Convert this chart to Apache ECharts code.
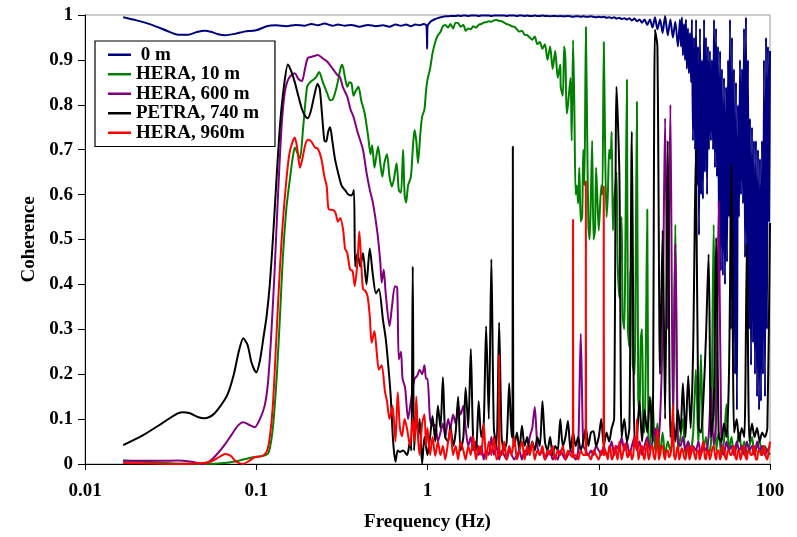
<!DOCTYPE html>
<html><head><meta charset="utf-8">
<script src="https://cdn.jsdelivr.net/npm/echarts@6/dist/echarts.min.js"></script>
<style>html,body{margin:0;padding:0;background:#fff}#c{width:797px;height:537px}</style>
</head><body><div id="c"></div>
<script>
const seriesNames = [' 0 m', 'HERA, 10 m', 'HERA, 600 m', 'PETRA, 740 m', 'HERA, 960m'];
const seriesColors = ['#000080', '#008000', '#800080', '#000000', '#ff0000'];
const xTickLabels = ['0.01', '0.1', '1', '10', '100'];
const yTickLabels = ['0', '0.1', '0.2', '0.3', '0.4', '0.5', '0.6', '0.7', '0.8', '0.9', '1'];

// shared frequency grids (Hz)
const freqMid = [1,1.035,1.07,1.11,1.15,1.19,1.23,1.27,1.32,1.36,
 1.41,1.46,1.51,1.56,1.62,1.67,1.73,1.79,1.85,1.92,
 1.99,2.06,2.13,2.2,2.28,2.36,2.44,2.53,2.62,2.71,
 2.8,2.9,3,3.1,3.21,3.33,3.44,3.56,3.69,3.82,
 3.95,4.09,4.23,4.38,4.53,4.69,4.85,5.02,5.2,5.38,
 5.57,5.76,5.96,6.17,6.39,6.61,6.84,7.08,7.33,7.58,
 7.85,8.12,8.41,8.7,9,9.32,9.65,10];
const freqHigh = [10,10.35,10.7,11.1,11.5,11.9,12.3,12.7,13.2,13.6,
 14.1,14.6,15.1,15.6,16.2,16.7,17.3,17.9,18.5,19.2,
 19.9,20.6,21.3,22,22.8,23.6,24.4,25.3,26.2,27.1,
 28,29,30,31,32.1,33.3,34.4,35.6,36.9,38.2,
 39.5,40.9,42.3,43.8,45.3,46.9,48.5,50.2,52,53.8,
 55.7,57.6,59.6,61.7,63.9,66.1,68.4,70.8,73.3,75.8,
 78.5,81.2,84.1,87,90,93.2,96.5,100];

// ---- 0 m (blue)
const blueLow = [[0.0167,0.995],[0.02,0.988],[0.025,0.977],[0.03,0.965],[0.035,0.956],[0.04,0.956],[0.045,0.962],[0.05,0.965],[0.055,0.962],[0.06,0.957],[0.066,0.955],[0.075,0.958],[0.085,0.963],[0.1,0.966],[0.115,0.975],[0.13,0.977],[0.15,0.975],[0.17,0.978],[0.19,0.976],[0.21,0.98],[0.23,0.977],[0.25,0.981],[0.28,0.976],[0.3,0.979],[0.33,0.976],[0.36,0.978],[0.4,0.974],[0.45,0.978],[0.5,0.975],[0.55,0.977],[0.6,0.974],[0.65,0.979],[0.7,0.976],[0.75,0.979],[0.8,0.975],[0.85,0.979],[0.9,0.977],[0.95,0.98],[0.985,0.977],[0.995,0.925]];
const blueMid = [0.975,0.984,0.988,0.991,0.993,0.995,0.996,0.997,0.997,0.998,
 0.998,0.998,0.999,0.998,0.999,0.999,0.998,0.999,0.999,0.999,
 0.998,0.999,0.999,0.999,0.999,0.998,0.999,0.999,0.999,0.999,
 0.999,0.998,0.999,0.999,0.999,0.998,0.999,0.999,0.998,0.999,
 0.998,0.998,0.999,0.998,0.998,0.999,0.998,0.998,0.997,0.998,
 0.998,0.997,0.998,0.997,0.997,0.998,0.997,0.996,0.997,0.997,
 0.996,0.997,0.996,0.996,0.997,0.996,0.995,0.996];
const blueHigh = [0.996,0.995,0.996,0.994,0.995,0.993,0.995,0.992,0.994,0.991,
 0.993,0.99,0.993,0.988,0.992,0.986,0.99,0.983,0.99,0.978,
 0.99,0.972,0.995,0.968,0.99,0.96,0.998,0.955,0.99,0.95,
 0.985,0.93];
const blueTail = [[29.8,0.99],[30.2,0.93],[30.6,0.995],[31.0,0.91],[31.5,0.98],[31.9,0.9],[32.3,0.99],[32.7,0.88],[33.2,0.97],[33.6,0.87],
 [34.1,0.96],[34.6,0.85],[35.0,0.99],[35.5,0.72],[36.0,0.95],[36.5,0.7],[37.0,0.99],[37.5,0.62],[38.0,0.93],[38.5,0.51],
 [39.0,0.97],[39.6,0.6],[40.1,0.9],[40.6,0.59],[41.2,0.99],[41.7,0.65],[42.3,0.95],[42.9,0.6],[43.4,0.93],[44.0,0.7],
 [44.6,0.92],[45.2,0.72],[45.8,0.9],[46.5,0.7],[47.1,0.99],[47.7,0.66],[48.4,0.97],[49.0,0.64],[49.7,0.93],[50.4,0.5],
 [51.1,0.92],[51.7,0.43],[52.4,0.88],[53.1,0.42],[53.9,0.86],[54.6,0.4],[55.4,0.84],[56.1,0.45],[56.9,0.9],[57.6,0.55],
 [58.4,0.99],[59.2,0.3],[60.0,0.95],[60.8,0.27],[61.6,0.88],[62.5,0.2],[63.3,0.85],[64.1,0.12],[65.0,0.8],[65.9,0.55],
 [66.8,0.9],[67.7,0.6],[68.6,0.88],[69.6,0.58],[70.5,0.97],[71.5,0.46],[72.4,0.995],[73.4,0.44],[74.4,0.9],[75.4,0.3],
 [76.4,0.77],[77.5,0.22],[78.5,0.75],[79.6,0.27],[80.6,0.72],[81.7,0.2],[82.8,0.72],[84.0,0.15],[85.1,0.7],[86.3,0.12],
 [87.4,0.68],[88.6,0.14],[89.8,0.72],[91.0,0.2],[92.2,0.9],[93.5,0.15],[94.8,0.95],[96.0,0.3],[97.3,0.93],[98.7,0.54],[100,0.92]];

// ---- HERA, 10 m (green)
const greenLow = [[0.0167,0.008],[0.025,0.004],[0.035,0.001],[0.05,0.0],[0.065,0.002],[0.08,0.008],[0.09,0.013],[0.1,0.016],[0.11,0.018],[0.118,0.025],[0.125,0.08],[0.132,0.2],[0.138,0.34],[0.143,0.46],[0.15,0.57],[0.157,0.633],[0.163,0.68],[0.168,0.705],[0.175,0.69],[0.18,0.68],[0.188,0.75],[0.198,0.84],[0.206,0.85],[0.214,0.855],[0.224,0.862],[0.233,0.873],[0.245,0.85],[0.26,0.825],[0.27,0.81],[0.28,0.812],[0.295,0.84],[0.31,0.88],[0.318,0.889],[0.33,0.86],[0.34,0.84],[0.35,0.85],[0.36,0.848],[0.37,0.82],[0.38,0.83],[0.395,0.84],[0.41,0.81],[0.43,0.78],[0.45,0.73],[0.465,0.69],[0.475,0.71],[0.49,0.66],[0.5,0.68],[0.515,0.707],[0.53,0.67],[0.545,0.64],[0.56,0.67],[0.58,0.69],[0.6,0.64],[0.62,0.618],[0.64,0.64],[0.66,0.67],[0.68,0.61],[0.7,0.604],[0.72,0.7],[0.735,0.6],[0.75,0.582],[0.77,0.62],[0.8,0.64],[0.82,0.7],[0.84,0.744],[0.86,0.72],[0.88,0.67],[0.91,0.74],[0.93,0.773],[0.96,0.79],[0.98,0.83]];
const greenMid = [0.856,0.88,0.915,0.94,0.955,0.962,0.975,0.978,0.972,0.98,
 0.97,0.983,0.982,0.974,0.978,0.965,0.97,0.968,0.975,0.972,
 0.978,0.98,0.983,0.984,0.986,0.985,0.988,0.989,0.987,0.986,
 0.983,0.98,0.978,0.975,0.974,0.968,0.963,0.965,0.956,0.955,
 0.95,0.945,0.952,0.935,0.94,0.925,0.935,0.9,0.93,0.88,
 0.92,0.86,0.89,0.82,0.9,0.8,0.86,0.944,0.6,0.58,
 0.54,0.7,0.973,0.53,0.6,0.5,0.66,0.52];
const greenHigh = [0.52,0.62,0.94,0.55,0.7,0.74,0.58,0.65,0.37,0.55,
 0.3,0.856,0.26,0.45,0.2,0.807,0.11,0.3,0.07,0.567,
 0.04,0.15,0.03,0.09,0.02,0.07,0.02,0.05,0.03,0.06,
 0.533,0.03,0.06,0.1,0.02,0.05,0.03,0.07,0.21,0.04,
 0.244,0.03,0.06,0.02,0.05,0.533,0.03,0.07,0.02,0.05,
 0.133,0.03,0.06,0.02,0.04,0.07,0.03,0.05,0.02,0.04,
 0.06,0.02,0.04,0.05,0.02,0.04,0.03,0.02];
const greenExtra = [[6.0,0.84],[6.28,0.93],[6.5,0.78],[6.95,0.72],[7.2,0.8],[7.45,0.62],[7.7,0.66],[8.0,0.55],[8.25,0.62],[8.55,0.75],[8.85,0.5],[9.15,0.72],[9.5,0.52],[9.8,0.6],
 [10.5,0.6],[10.9,0.7],[11.3,0.6],[11.7,0.68],[12.1,0.52],[12.5,0.62],[12.9,0.45],[13.4,0.52],[13.8,0.33],[14.3,0.48],[14.8,0.3],[15.3,0.42],[15.8,0.22],[16.4,0.38],[17.0,0.15],[17.6,0.28],[18.2,0.08],[18.8,0.22],[19.5,0.05]];

// ---- HERA, 600 m (purple)
const purpleLow = [[0.0167,0.007],[0.025,0.007],[0.035,0.008],[0.042,0.005],[0.049,0.0],[0.055,0.01],[0.06,0.025],[0.066,0.045],[0.072,0.066],[0.078,0.085],[0.084,0.093],[0.09,0.088],[0.098,0.082],[0.105,0.1],[0.112,0.13],[0.117,0.18],[0.122,0.28],[0.128,0.43],[0.134,0.6],[0.141,0.76],[0.147,0.83],[0.153,0.855],[0.16,0.866],[0.168,0.87],[0.176,0.858],[0.185,0.853],[0.192,0.878],[0.2,0.904],[0.215,0.908],[0.229,0.911],[0.245,0.903],[0.26,0.896],[0.28,0.88],[0.295,0.868],[0.308,0.862],[0.32,0.84],[0.34,0.818],[0.355,0.79],[0.37,0.773],[0.39,0.74],[0.42,0.70],[0.44,0.65],[0.46,0.611],[0.48,0.582],[0.51,0.515],[0.53,0.45],[0.54,0.404],[0.555,0.433],[0.57,0.38],[0.6,0.307],[0.62,0.35],[0.645,0.396],[0.665,0.393],[0.68,0.233],[0.7,0.25],[0.715,0.19],[0.74,0.17],[0.77,0.1],[0.8,0.14],[0.84,0.19],[0.87,0.196],[0.9,0.21],[0.93,0.2],[0.96,0.22],[0.98,0.19]];
const purpleMid = [0.19,0.1,0.085,0.087,0.05,0.07,0.09,0.06,0.1,0.08,
 0.11,0.09,0.13,0.11,0.13,0.08,0.04,0.06,0.03,0.05,
 0.02,0.04,0.01,0.03,0.02,0.06,0.02,0.04,0.01,0.03,
 0.02,0.01,0.03,0.02,0.01,0.02,0.03,0.01,0.03,0.02,
 0.06,0.08,0.127,0.04,0.02,0.03,0.01,0.02,0.03,0.01,
 0.02,0.01,0.03,0.02,0.01,0.02,0.03,0.02,0.01,0.03,
 0.29,0.04,0.03,0.02,0.03,0.02,0.04,0.03];
const purpleHigh = [0.03,0.02,0.04,0.02,0.03,0.05,0.02,0.04,0.03,0.06,
 0.03,0.05,0.02,0.04,0.06,0.03,0.05,0.02,0.04,0.06,
 0.03,0.05,0.08,0.04,0.1,0.3,0.77,0.3,0.8,0.1,
 0.49,0.05,0.04,0.06,0.03,0.05,0.02,0.04,0.03,0.05,
 0.02,0.04,0.03,0.06,0.17,0.04,0.1,0.585,0.04,0.02,
 0.05,0.03,0.04,0.02,0.05,0.03,0.04,0.02,0.05,0.03,
 0.04,0.02,0.05,0.03,0.04,0.02,0.03,0.04];

// ---- PETRA, 740 m (black)
const blackLow = [[0.0167,0.042],[0.022,0.065],[0.028,0.09],[0.033,0.108],[0.037,0.115],[0.041,0.113],[0.046,0.104],[0.05,0.102],[0.056,0.11],[0.062,0.13],[0.068,0.155],[0.074,0.2],[0.079,0.25],[0.084,0.28],[0.089,0.265],[0.094,0.225],[0.1,0.204],[0.105,0.23],[0.11,0.28],[0.115,0.33],[0.12,0.4],[0.126,0.52],[0.132,0.65],[0.138,0.76],[0.145,0.84],[0.153,0.89],[0.16,0.875],[0.168,0.85],[0.176,0.82],[0.185,0.79],[0.193,0.775],[0.2,0.77],[0.208,0.785],[0.218,0.82],[0.228,0.847],[0.235,0.835],[0.242,0.78],[0.25,0.72],[0.256,0.718],[0.263,0.74],[0.27,0.75],[0.278,0.72],[0.288,0.68],[0.3,0.65],[0.315,0.62],[0.33,0.61],[0.345,0.6],[0.36,0.598],[0.372,0.61],[0.378,0.44],[0.39,0.47],[0.405,0.44],[0.42,0.47],[0.44,0.40],[0.46,0.48],[0.48,0.42],[0.5,0.38],[0.52,0.39],[0.55,0.32],[0.57,0.28],[0.59,0.22],[0.61,0.15],[0.63,0.05],[0.65,0.005],[0.67,0.03],[0.69,0.027],[0.72,0.03],[0.76,0.02],[0.79,0.05],[0.805,0.03],[0.82,0.44],[0.835,0.03],[0.86,0.12],[0.88,0.06],[0.9,0.1],[0.93,0.0],[0.96,0.06],[0.98,0.04]];
const blackMid = [0.02,0.06,0.107,0.05,0.13,0.08,0.193,0.06,0.05,0.085,
 0.04,0.07,0.15,0.03,0.06,0.17,0.08,0.256,0.05,0.03,
 0.14,0.06,0.09,0.307,0.1,0.456,0.08,0.04,0.315,0.06,
 0.03,0.05,0.18,0.06,0.04,0.07,0.03,0.085,0.04,0.06,
 0.02,0.05,0.03,0.06,0.04,0.14,0.05,0.03,0.06,0.02,
 0.04,0.03,0.1,0.04,0.06,0.096,0.03,0.07,0.04,0.06,
 0.03,0.05,0.08,0.04,0.07,0.073,0.04,0.06];
const blackHigh = [0.06,0.1,0.04,0.07,0.05,0.08,0.1,0.84,0.644,0.06,
 0.1,0.05,0.08,0.74,0.04,0.06,0.14,0.05,0.12,0.07,
 0.15,0.05,0.967,0.93,0.2,0.52,0.1,0.72,0.06,0.1,
 0.05,0.12,0.07,0.18,0.06,0.196,0.08,0.26,0.70,0.08,
 0.07,0.15,0.285,0.467,0.06,0.12,0.504,0.06,0.05,0.09,
 0.06,0.2,0.667,0.07,0.1,0.05,0.08,0.06,0.49,0.05,
 0.09,0.06,0.08,0.05,0.07,0.06,0.08,0.537];
const blackExtra = [[3.13,0.06],[3.15,0.707],[3.17,0.06]];

// ---- HERA, 960m (red)
const redLow = [[0.0167,0.002],[0.025,0.001],[0.035,0.0],[0.049,0.002],[0.055,0.006],[0.061,0.016],[0.066,0.022],[0.071,0.018],[0.076,0.006],[0.084,0.0],[0.09,0.006],[0.098,0.015],[0.107,0.017],[0.115,0.027],[0.12,0.06],[0.125,0.13],[0.131,0.28],[0.137,0.427],[0.143,0.54],[0.15,0.633],[0.156,0.69],[0.162,0.715],[0.168,0.727],[0.174,0.7],[0.18,0.66],[0.186,0.68],[0.193,0.71],[0.2,0.722],[0.21,0.718],[0.22,0.705],[0.229,0.702],[0.24,0.68],[0.25,0.64],[0.258,0.618],[0.265,0.567],[0.28,0.566],[0.29,0.56],[0.3,0.54],[0.31,0.548],[0.322,0.52],[0.33,0.48],[0.34,0.47],[0.353,0.433],[0.365,0.43],[0.376,0.396],[0.39,0.45],[0.4,0.518],[0.41,0.45],[0.42,0.39],[0.435,0.385],[0.447,0.373],[0.46,0.33],[0.472,0.27],[0.49,0.296],[0.505,0.25],[0.52,0.21],[0.54,0.22],[0.565,0.16],[0.58,0.14],[0.6,0.1],[0.625,0.13],[0.65,0.05],[0.67,0.16],[0.69,0.08],[0.71,0.062],[0.735,0.1],[0.76,0.078],[0.79,0.04],[0.82,0.1],[0.84,0.05],[0.86,0.15],[0.88,0.06],[0.9,0.02],[0.93,0.09],[0.96,0.11],[0.98,0.04]];
const redMid = [0.08,0.02,0.06,0.018,0.05,0.02,0.04,0.01,0.05,0.078,
 0.02,0.04,0.01,0.05,0.03,0.01,0.04,0.02,0.062,0.01,
 0.04,0.02,0.09,0.01,0.05,0.02,0.06,0.01,0.244,0.02,
 0.05,0.01,0.04,0.02,0.06,0.01,0.03,0.05,0.01,0.04,
 0.02,0.05,0.01,0.03,0.02,0.04,0.01,0.03,0.02,0.04,
 0.01,0.03,0.02,0.04,0.01,0.03,0.02,0.544,0.02,0.01,
 0.03,0.02,0.63,0.02,0.01,0.03,0.02,0.01];
const redHigh = [0.01,0.03,0.618,0.02,0.04,0.01,0.03,0.02,0.05,0.01,
 0.04,0.02,0.03,0.01,0.06,0.1,0.02,0.04,0.01,0.05,
 0.02,0.04,0.01,0.078,0.02,0.04,0.01,0.03,0.02,0.133,
 0.01,0.04,0.02,0.03,0.01,0.04,0.02,0.035,0.01,0.03,
 0.02,0.05,0.01,0.03,0.02,0.04,0.01,0.03,0.02,0.035,
 0.01,0.03,0.02,0.04,0.01,0.03,0.02,0.035,0.01,0.03,
 0.02,0.04,0.01,0.03,0.02,0.035,0.01,0.05];
const redExtra = [[2.6,0.02],[2.64,0.02],[7.05,0.015],[7.11,0.015],[8.38,0.02],[8.44,0.02],[10.66,0.02],[10.74,0.02],
 [10.2,0.02],[10.9,0.03],[11.3,0.01],[11.7,0.035],[12.1,0.015],[12.5,0.04],[12.9,0.01],[13.4,0.03],[13.8,0.02],[14.3,0.045],[14.8,0.015],[15.3,0.03],[15.9,0.02],[16.5,0.035],[17,0.01],[17.6,0.04],[18.2,0.02],[18.8,0.03],[19.5,0.01],[20.2,0.04],[20.9,0.02],[21.6,0.03],[22.4,0.01],[23.2,0.04],[24,0.02],[24.8,0.03],[25.7,0.015],[26.6,0.04],[27.5,0.02],[28.5,0.03],[29.5,0.01],[30.5,0.035],[31.5,0.015],[32.7,0.03],[33.8,0.01],[35,0.04],[36.2,0.02],[37.5,0.03],[38.8,0.01],[40.2,0.04],[41.6,0.015],[43,0.03],[44.5,0.01],[46.1,0.035],[47.7,0.02],[49.3,0.03],[51.1,0.01],[52.9,0.04],[54.7,0.015],[56.6,0.03],[58.6,0.02],[60.6,0.035],[62.8,0.015],[65,0.03],[67.2,0.01],[69.6,0.04],[72,0.015],[74.5,0.03],[77.1,0.02],[79.8,0.035],[82.6,0.01],[85.5,0.03],[88.5,0.02],[91.6,0.04],[94.8,0.015],[98.2,0.03]];

function build(low, mid, high, extra) {
  const pts = low.slice();
  mid.forEach((v, i) => { if (i < freqMid.length) pts.push([freqMid[i], v]); });
  high.forEach((v, i) => { if (i < freqHigh.length) pts.push([freqHigh[i], v]); });
  (extra || []).forEach(p => pts.push(p));
  pts.sort((a, b) => a[0] - b[0]);
  return pts;
}

const seriesData = [
  build(blueLow, blueMid, blueHigh, blueTail),
  build(greenLow, greenMid, greenHigh, greenExtra),
  build(purpleLow, purpleMid, purpleHigh, []),
  build(blackLow, blackMid, blackHigh, blackExtra),
  build(redLow, redMid, redHigh, redExtra)
];

const FONT = "'Liberation Serif', 'Times New Roman', serif";
const chart = echarts.init(document.getElementById('c'), null, { renderer: 'canvas' });
chart.setOption({
  animation: false,
  backgroundColor: '#fff',
  grid: { left: 85, right: 27, top: 15, bottom: 72, show: true, borderColor: '#999', borderWidth: 1, backgroundColor: 'transparent' },
  legend: {
    left: 95, top: 41, orient: 'vertical', icon: 'rect',
    backgroundColor: '#fff', borderColor: '#000', borderWidth: 1.2,
    padding: [4, 16, 4, 13], itemGap: 0, itemWidth: 23, itemHeight: 2.5,
    textStyle: { fontFamily: FONT, fontWeight: 'bold', fontSize: 19, color: '#000', lineHeight: 19.5 },
    data: seriesNames
  },
  xAxis: {
    type: 'log', logBase: 10, min: 0.01, max: 100,
    name: 'Frequency (Hz)', nameLocation: 'middle', nameGap: 49,
    nameTextStyle: { fontFamily: FONT, fontWeight: 'bold', fontSize: 19, color: '#000' },
    axisLine: { show: true, onZero: false, lineStyle: { color: '#000', width: 1 } },
    axisTick: { show: true, inside: false, length: 6, lineStyle: { color: '#000' } },
    minorTick: { show: false },
    splitLine: { show: false },
    axisLabel: { margin: 18, fontFamily: FONT, fontWeight: 'bold', fontSize: 19, color: '#000',
      formatter: (v, i) => xTickLabels[i] !== undefined ? xTickLabels[i] : '' }
  },
  yAxis: {
    type: 'value', min: 0, max: 1, interval: 0.1,
    name: 'Coherence', nameLocation: 'middle', nameGap: 45,
    nameTextStyle: { fontFamily: FONT, fontWeight: 'bold', fontSize: 19, color: '#000' },
    axisLine: { show: true, lineStyle: { color: '#000', width: 1 } },
    axisTick: { show: true, inside: false, length: 7, lineStyle: { color: '#000' } },
    splitLine: { show: false },
    axisLabel: { margin: 12, fontFamily: FONT, fontWeight: 'bold', fontSize: 19, color: '#000',
      formatter: (v, i) => yTickLabels[i] !== undefined ? yTickLabels[i] : '' }
  },
  series: seriesNames.map((n, k) => ({
    name: n, type: 'line', data: seriesData[k],
    showSymbol: false, symbol: 'none', smooth: 0.25,
    lineStyle: { color: seriesColors[k], width: 2 },
    itemStyle: { color: seriesColors[k] },
    emphasis: { disabled: true }, silent: true, z: 2 + k
  }))
});
</script>
</body></html>
